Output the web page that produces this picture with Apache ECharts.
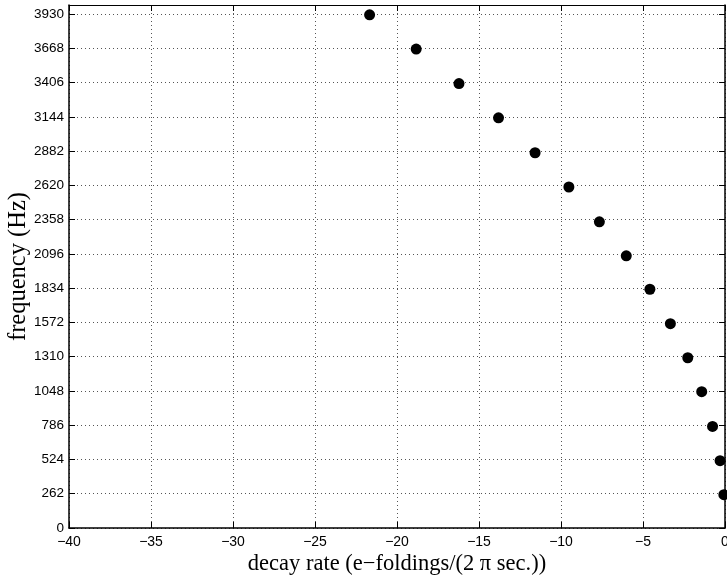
<!DOCTYPE html>
<html>
<head>
<meta charset="utf-8">
<script src="https://cdn.jsdelivr.net/npm/echarts@6/dist/echarts.min.js"></script>
<style>
html,body{margin:0;padding:0;background:#fff;}
#c{width:727px;height:581px;}
</style>
</head>
<body>
<div id="c"></div>
<script>
const decayRate = [-21.67, -18.83, -16.22, -13.81, -11.58, -9.52, -7.66, -6.02, -4.58, -3.33, -2.27, -1.42, -0.76, -0.30, -0.07];
const frequency = [3925, 3663, 3399, 3137, 2870, 2608, 2342, 2082, 1826, 1563, 1302, 1043, 777, 515, 255];
const xTicks = {min: -40, max: 0, step: 5};
const yTicks = {min: 0, max: 4000, step: 262};

const points = decayRate.map((d, i) => [d, frequency[i]]);
const gridLine = {show: true, lineStyle: {color: '#555', type: [1, 3], width: 1}};
const chart = echarts.init(document.getElementById('c'));
chart.setOption({
  animation: false,
  backgroundColor: '#fff',
  grid: {left: 69, right: 2, top: 5, bottom: 53, containLabel: false, outerBoundsMode: 'none'},
  xAxis: [{
    type: 'value', min: xTicks.min, max: xTicks.max, interval: xTicks.step,
    position: 'bottom',
    name: 'decay rate (e\u2212foldings/(2 \u03c0 sec.))',
    nameLocation: 'middle', nameGap: 25, nameMoveOverlap: false,
    nameTextStyle: {fontFamily: 'Liberation Serif', fontSize: 22.5, color: '#000'},
    axisLine: {show: true, onZero: false, lineStyle: {color: '#000', width: 1.5}},
    axisTick: {show: true, inside: true, length: 6, lineStyle: {color: '#000'}},
    axisLabel: {color: '#000', fontFamily: 'Liberation Sans', fontSize: 14, margin: 7,
      formatter: v => v < 0 ? '\u2212' + Math.abs(v) : String(v)},
    splitLine: gridLine
  }, {
    type: 'value', min: xTicks.min, max: xTicks.max, interval: xTicks.step,
    position: 'top',
    axisLine: {show: true, onZero: false, lineStyle: {color: '#000', width: 1}},
    axisTick: {show: true, inside: true, length: 6, lineStyle: {color: '#000'}},
    axisLabel: {show: false}, splitLine: {show: false}
  }],
  yAxis: [{
    type: 'value', min: yTicks.min, max: yTicks.max, interval: yTicks.step,
    position: 'left',
    name: 'frequency (Hz)',
    nameLocation: 'middle', nameGap: 38, nameMoveOverlap: false,
    nameTextStyle: {fontFamily: 'Liberation Serif', fontSize: 24.5, color: '#000'},
    axisLine: {show: true, onZero: false, lineStyle: {color: '#000', width: 1.5}},
    axisTick: {show: true, inside: true, length: 6, lineStyle: {color: '#000'}},
    axisLabel: {color: '#000', fontFamily: 'Liberation Sans', fontSize: 13.5, margin: 5,
      showMaxLabel: false, formatter: v => String(v)},
    splitLine: gridLine
  }, {
    type: 'value', min: yTicks.min, max: yTicks.max, interval: yTicks.step,
    position: 'right',
    axisLine: {show: true, onZero: false, lineStyle: {color: '#000', width: 1.5}},
    axisTick: {show: true, inside: true, length: 6, lineStyle: {color: '#000'}},
    axisLabel: {show: false}, splitLine: {show: false}
  }],
  series: [{
    type: 'scatter',
    data: points,
    symbol: 'circle',
    symbolSize: 11,
    itemStyle: {color: '#000', opacity: 1},
    clip: false
  }]
});
</script>
</body>
</html>
